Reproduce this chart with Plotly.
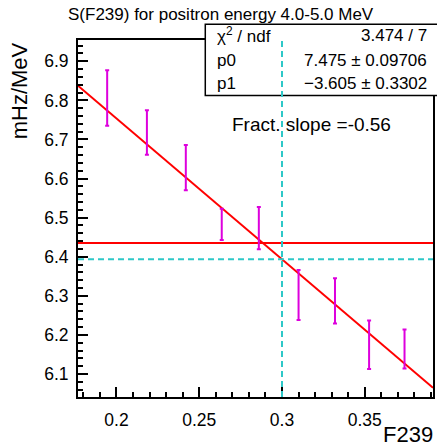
import plotly.graph_objects as go

# F239 fission fraction bins and measured rate (mHz/MeV) with errors
f239 = [0.1944, 0.2184, 0.2419, 0.2636, 0.2860, 0.3100, 0.3320, 0.3526, 0.3740]
rate = [6.806, 6.718, 6.628, 6.483, 6.473, 6.302, 6.287, 6.175, 6.164]
rate_err = [0.071, 0.057, 0.058, 0.040, 0.054, 0.064, 0.058, 0.062, 0.050]

# Linear fit results: rate = p0 + p1 * F239
p0, p0_err = 7.475, 0.09706
p1, p1_err = -3.605, 0.3302
chi2, ndf = 3.474, 7
mean_rate = 6.435          # average rate (red horizontal line)
f239_ref = 0.3             # reference fission fraction (cyan markers)
frac_slope = p1 / mean_rate

x_range = [0.17678, 0.3912]
y_range = [6.0412, 6.9545]

W, H = 437, 446
ML, MR, MT, MB = 78, 2, 40, 49
PW, PH = W - ML - MR, H - MT - MB

FONT = "Liberation Sans, Arial, Helvetica, sans-serif"
CYAN = "#2ec8c8"
MAGENTA = "#dd00dd"


def px(xp):
    return (xp - ML) / PW


def py(yp):
    return (H - MB - yp) / PH


fig = go.Figure()

# fitted line over the full axis range
fit_x = x_range
fit_y = [p0 + p1 * v for v in fit_x]
fig.add_trace(go.Scatter(x=fit_x, y=fit_y, mode="lines",
                         line=dict(color="#ff0000", width=2), hoverinfo="skip"))

# mean rate line
fig.add_trace(go.Scatter(x=x_range, y=[mean_rate, mean_rate], mode="lines",
                         line=dict(color="#ff0000", width=2), hoverinfo="skip"))

# data points: error bars only
fig.add_trace(go.Scatter(
    x=f239, y=rate, mode="markers",
    marker=dict(size=1, color="rgba(0,0,0,0)"),
    error_y=dict(type="data", array=rate_err, visible=True,
                 color=MAGENTA, thickness=2, width=2),
))

shapes = [
    # statistics box
    dict(type="rect", xref="paper", yref="paper",
         x0=px(206), x1=px(440), y0=py(95.5), y1=py(24.3),
         fillcolor="white", line=dict(color="black", width=1.5), layer="above"),
    # reference fraction and fitted value there
    dict(type="line", xref="x", yref="paper", x0=f239_ref, x1=f239_ref, y0=0, y1=1,
         line=dict(color=CYAN, width=2, dash="6px,4px"), layer="above"),
    dict(type="line", xref="paper", yref="y", x0=0, x1=1,
         y0=p0 + p1 * f239_ref, y1=p0 + p1 * f239_ref,
         line=dict(color=CYAN, width=2, dash="6px,4px"), layer="above"),
]

ann = []
ann.append(dict(text="S(F239) for positron energy 4.0-5.0 MeV", xref="paper", yref="paper",
                x=px(221.7), y=py(14), xanchor="center", yanchor="middle",
                showarrow=False, font=dict(size=17, color="black", family=FONT)))
ann.append(dict(text="mHz/MeV", xref="paper", yref="paper", textangle=-90,
                x=px(19), y=py(91), xanchor="center", yanchor="middle",
                showarrow=False, font=dict(size=22, color="black", family=FONT)))
ann.append(dict(text="F239", xref="paper", yref="paper",
                x=px(437), y=py(434), xanchor="right", yanchor="middle",
                showarrow=False, font=dict(size=22, color="black", family=FONT)))

stat_rows = [
    ("χ<sup>2</sup> / ndf", f"{chi2:.3f} / {ndf}", 35),
    ("p0", f"{p0:.3f} ± {p0_err:.5f}", 60.5),
    ("p1", f"\u2212{abs(p1):.3f} ± {p1_err:.4f}", 83.3),
]
for label, value, yy in stat_rows:
    ann.append(dict(text=label, xref="paper", yref="paper", x=px(215.5), y=py(yy),
                    xanchor="left", yanchor="middle", showarrow=False,
                    font=dict(size=17, color="black", family=FONT)))
    ann.append(dict(text=value, xref="paper", yref="paper", x=px(431), y=py(yy),
                    xanchor="right", yanchor="middle", showarrow=False,
                    font=dict(size=17, color="black", family=FONT)))

ann.append(dict(text=f"Fract. slope ={frac_slope:.2f}", xref="paper", yref="paper",
                x=px(230.5), y=py(124), xanchor="left", yanchor="middle",
                showarrow=False, font=dict(size=19, color="black", family=FONT)))

axis_common = dict(
    showgrid=False, zeroline=False, showline=True, mirror=True,
    linecolor="black", linewidth=2,
    ticks="inside", ticklen=10, tickwidth=2, tickcolor="black",
    tickfont=dict(size=17.5, color="black", family=FONT),
    tickmode="linear", tick0=0,
)

fig.update_layout(
    width=W, height=H, autosize=False,
    margin=dict(l=ML, r=MR, t=MT, b=MB, pad=0),
    paper_bgcolor="white", plot_bgcolor="white",
    showlegend=False,
    xaxis=dict(range=x_range, dtick=0.05,
               minor=dict(dtick=0.01, ticklen=5, ticks="inside", tickcolor="black", tickwidth=2),
               ticklabelstandoff=6, **axis_common),
    yaxis=dict(range=y_range, dtick=0.1,
               minor=dict(dtick=0.02, ticklen=5, ticks="inside", tickcolor="black", tickwidth=2),
               ticklabelstandoff=4, **axis_common),
    shapes=shapes,
    annotations=ann,
)

fig.write_html("out.html")
